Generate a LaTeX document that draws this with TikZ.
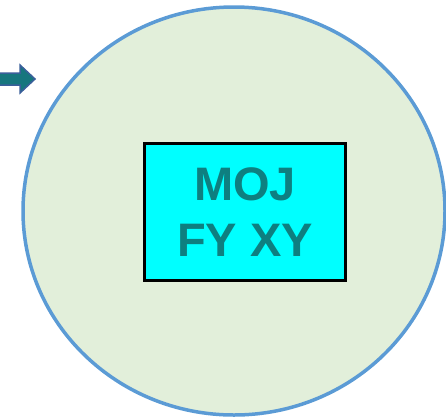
\documentclass[tikz,border=0pt]{standalone}
\usepackage{fontspec}
\setmainfont{Liberation Sans}
\definecolor{ringblue}{HTML}{5B9BD5}
\definecolor{ringfill}{HTML}{E2EFDA}
\definecolor{boxfill}{HTML}{00FFFF}
\definecolor{boxtext}{HTML}{0E7F80}
\definecolor{arrowfill}{HTML}{16767E}
\definecolor{arrowline}{HTML}{3A5F9A}
\tikzset{
  ring/.style={draw=ringblue, fill=ringfill, line width=3.5pt},
  labelbox/.style={draw=black, fill=boxfill, line width=3pt, minimum width=201pt, minimum height=137pt,
    inner sep=0pt, align=center, text=boxtext, font=\fontsize{47}{56}\selectfont\bfseries},
  pointer/.style={fill=arrowfill, draw=arrowline, line width=1.5pt, line join=miter}
}
\begin{document}
\begin{tikzpicture}[x=1pt,y=-1pt]
\useasboundingbox (0,0) rectangle (446,418);
\draw[ring] (234,211) ellipse [x radius=211, y radius=204];
\node[labelbox] (box) at (245,212) {MOJ\\FY XY};
\draw[pointer] (-2,73) -- (20,73) -- (20,65) -- (35,79) -- (20,93) -- (20,85) -- (-2,85) -- cycle;
\end{tikzpicture}
\end{document}
